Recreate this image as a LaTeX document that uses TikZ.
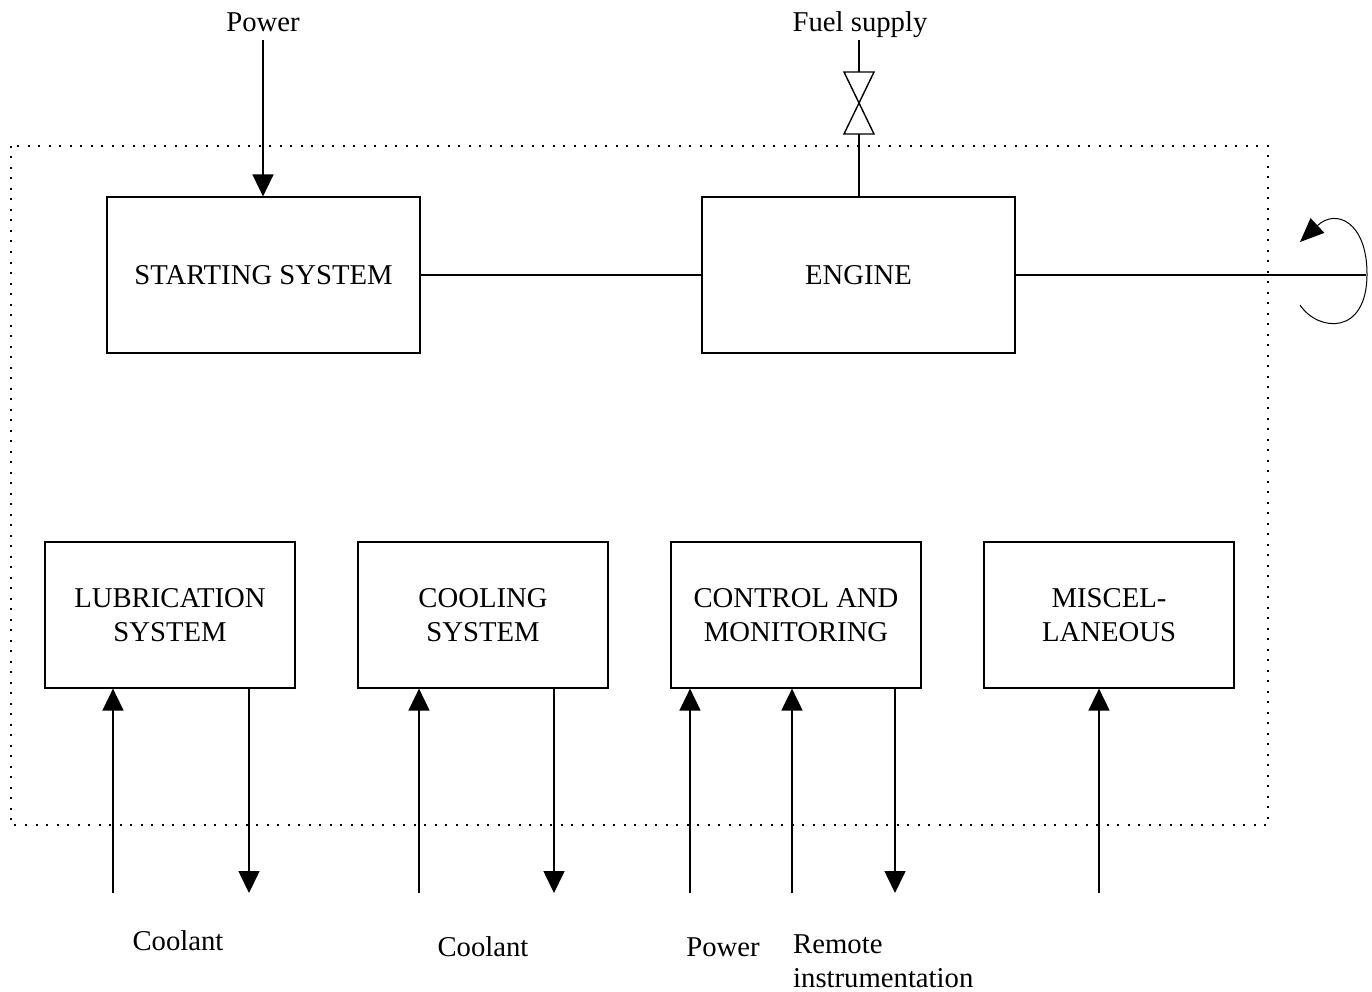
\documentclass[tikz,border=0pt]{standalone}
\usepackage{fontspec}
\setmainfont{Liberation Serif}
\usetikzlibrary{arrows.meta}
\begin{document}
\begin{tikzpicture}[x=1pt,y=-1pt,
  every node/.style={font=\fontsize{28.7}{34}\selectfont, inner sep=0pt},
  unit/.style={draw, line width=1.2pt, align=center},
  bigunit/.style={unit, minimum width=313pt, minimum height=156pt},
  smallunit/.style={unit, minimum width=250pt, minimum height=146pt},
  flow/.style={line width=1.6pt},
  arr/.style={flow, -{Triangle[length=22pt,width=21pt]}},
  boundary/.style={line width=2pt, dash pattern=on 2pt off 8.5pt}
]
\useasboundingbox (0,0) rectangle (1372,992);

% plant boundary
\draw[boundary] (11,146) rectangle (1268,825);

% main units
\node[bigunit] (start) at (263.5,275) {STARTING SYSTEM};
\node[bigunit] (engine) at (858.5,275) {ENGINE};

% auxiliary units
\node[smallunit] (lub)  at (170,615)  {LUBRICATION\\SYSTEM};
\node[smallunit] (cool) at (483,615)  {COOLING\\SYSTEM};
\node[smallunit] (ctrl) at (796,615)  {CONTROL AND\\MONITORING};
\node[smallunit] (misc) at (1109,615) {MISCEL-\\LANEOUS};

% top inputs
\node[anchor=base] (powerin) at (263,31.5) {Power};
\node[anchor=base] (fuel) at (860,31.5) {Fuel supply};
\draw[arr] (powerin.south |- 0,40) -- (start.north -| powerin.south);

% fuel line with valve
\coordinate (vtop) at (859,72);
\coordinate (vmid) at (859,103);
\coordinate (vbot) at (859,134);
\draw[flow] (vtop |- 0,40) -- (vtop);
\draw[line width=1.4pt, line join=miter]
  ([xshift=-15pt]vtop) -- ([xshift=15pt]vtop) -- (vmid) -- cycle;
\draw[line width=1.4pt, line join=miter]
  ([xshift=-15pt]vbot) -- ([xshift=15pt]vbot) -- (vmid) -- cycle;
\draw[flow] (vbot) -- (engine.north -| vbot);

% shaft coupling and output shaft
\draw[flow] (start.east) -- (engine.west);
\coordinate (shaftend) at (1366,275);
\draw[flow] (engine.east) -- (shaftend);

% rotation of the output shaft
\coordinate (rotA) at (1300,305);
\coordinate (rotB) at (1300,242);
\draw[line width=1pt, -{Triangle[length=24pt,width=20pt]}]
  (rotA) .. controls (1318,332) and (1367,336) .. (1367,274)
         .. controls (1367,222) and (1336,208) .. (rotB);

% lubrication system flows
\coordinate (l1) at (113,893);
\coordinate (l2) at (249,893);
\draw[arr] (l1) -- (l1 |- lub.south);
\draw[arr] (l2 |- lub.south) -- (l2);

% cooling system flows
\coordinate (c1) at (419,893);
\coordinate (c2) at (554,893);
\draw[arr] (c1) -- (c1 |- cool.south);
\draw[arr] (c2 |- cool.south) -- (c2);

% control and monitoring flows
\coordinate (m1) at (690,893);
\coordinate (m2) at (792,893);
\coordinate (m3) at (895,893);
\draw[arr] (m1) -- (m1 |- ctrl.south);
\draw[arr] (m2) -- (m2 |- ctrl.south);
\draw[arr] (m3 |- ctrl.south) -- (m3);

% miscellaneous
\coordinate (x1) at (1099,893);
\draw[arr] (x1) -- (x1 |- misc.south);

% bottom labels
\node (coolA) at (178,941) {Coolant};
\node (coolB) at (483,947) {Coolant};
\node (powerB) at (723,947) {Power};
\node[anchor=base west] (remote) at (793,953.5) {Remote};
\node[anchor=base west] (instr) at (793,987.5) {instrumentation};
\end{tikzpicture}
\end{document}
